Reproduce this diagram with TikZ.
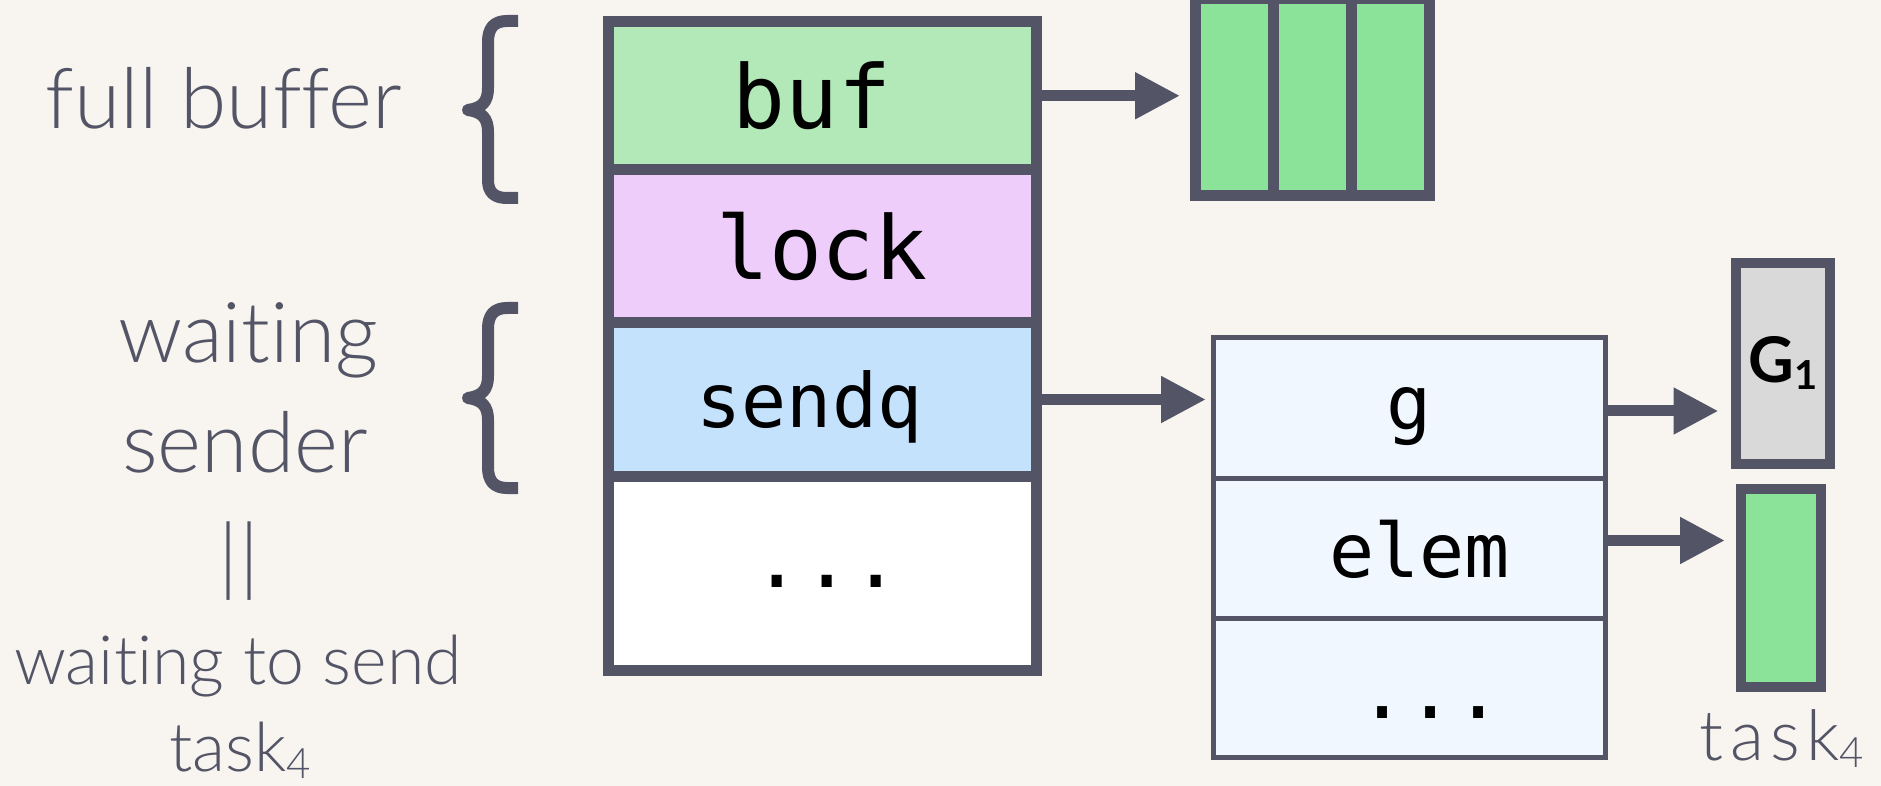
\documentclass[tikz,border=0pt]{standalone}
\usepackage{fontspec}
\setmainfont{Lato}
\newfontfamily\lightfont{Lato Light}[Ligatures=NoCommon]
\newfontfamily\monofont{DejaVu Sans Mono}
\usetikzlibrary{arrows.meta}
\definecolor{bg}{HTML}{F8F5F0}
\definecolor{ink}{HTML}{535466}
\definecolor{bufc}{HTML}{B3E9B9}
\definecolor{lockc}{HTML}{EECDFA}
\definecolor{sendc}{HTML}{C5E2FD}
\definecolor{greenc}{HTML}{8AE399}
\definecolor{sudogc}{HTML}{F0F7FE}
\definecolor{gc}{HTML}{D9D9D9}
\newcommand\subsc[2]{\raisebox{-#2}{\fontsize{#1}{#1}\selectfont 4}}
\begin{document}
\begin{tikzpicture}[x=0.5pt,y=-0.5pt,
  field/.style={draw=ink, line width=5.5pt, inner sep=0pt, outer sep=0pt, minimum width=214pt, font=\monofont\fontsize{44}{50}\selectfont, text=black},
  cell/.style={draw=ink, line width=5.5pt, fill=greenc, inner sep=0pt, outer sep=0pt, minimum width=39.17pt, minimum height=98.5pt},
  sfield/.style={draw=ink, line width=2.5pt, fill=sudogc, inner sep=0pt, outer sep=0pt, minimum width=196pt, minimum height=70pt, font=\monofont\fontsize{37.5}{42}\selectfont, text=black, text depth=0pt},
  tbox/.style={draw=ink, line width=5pt, inner sep=0pt, outer sep=0pt},
  lbl/.style={text=ink, font=\lightfont\fontsize{42}{50}\selectfont, anchor=base, inner sep=0pt},
  slbl/.style={text=ink, font=\lightfont\fontsize{34}{40}\selectfont, anchor=base, inner sep=0pt},
  arr/.style={draw=ink, line width=5.5pt, -{Triangle[length=22.5pt,width=22pt]}},
  brace/.style={draw=ink, line width=6pt, line join=round},
]
\fill[bg] (0,0) rectangle (1881,786);
\useasboundingbox (0,0) rectangle (1881,786);

% left labels
\node[lbl] (fb) at (224,129) {full buffer};
\node[lbl] (w1) at (248,363) {waiting};
\node[lbl] (w2) at (245,473) {sender};
\node[lbl] (eq) at (239,585) {||};
\node[slbl] (wts) at (238,684) {waiting to send};
\node[slbl] (tl) at (240,771) {task\subsc{21}{3.5pt}};

% braces
\draw[brace] (518,21) -- (507,21) .. controls (494,21) and (488,28) .. (488,42) -- (488,88) .. controls (488,102) and (482,108) .. (468,110) .. controls (482,112) and (488,118) .. (488,132) -- (488,180) .. controls (488,192) and (494,198) .. (507,198) -- (518,198);
\draw[brace] (518,308) -- (507,308) .. controls (494,308) and (488,315) .. (488,329) -- (488,376) .. controls (488,390) and (482,396) .. (468,398) .. controls (482,400) and (488,406) .. (488,420) -- (488,467) .. controls (488,481) and (494,488) .. (507,488) -- (518,488);

% channel struct
\node[field, fill=bufc, minimum height=74.25pt] (buf) at (822,95.75) {\hspace*{-10pt}buf};
\node[field, fill=lockc, minimum height=76.5pt] (lock) at (822,246.5) {lock};
\node[field, fill=sendc, minimum height=76.5pt, font=\monofont\fontsize{37.5}{42}\selectfont, text height=28.5pt, text depth=0pt] (sendq) at (822,399.5) {\hspace*{-12.5pt}sendq};
\node[field, fill=white, minimum height=97pt, font=\monofont\fontsize{41}{46}\selectfont, text height=14pt] (more) at (822,573) {\hspace*{5pt}...};

% buffer cells
\node[cell] (c1) at (1234.2,97.5) {};
\node[cell] (c2) at (1312.5,97.5) {};
\node[cell] (c3) at (1390.8,97.5) {};

% sudog
\node[sfield, text height=21.5pt] (g) at (1409,408) {g};
\node[sfield, text height=29pt] (elem) at (1409,548) {\hspace*{10.5pt}elem};
\node[sfield, minimum height=69.5pt, text height=30.5pt, font=\monofont\fontsize{40}{44}\selectfont] (smore) at (1409,687.5) {\hspace*{21.5pt}...};

% G1 and task element
\node[tbox, fill=gc, minimum width=47.25pt, minimum height=100.25pt, font=\bfseries\fontsize{31.5}{36}\selectfont] (G1) at (1782.75,363.25) {G\raisebox{-3.5pt}{\fontsize{20}{20}\selectfont 1}};
\node[tbox, fill=greenc, minimum width=40pt, minimum height=99pt] (task) at (1781,588) {};
\node[slbl, font=\lightfont\fontsize{35}{40}\selectfont\addfontfeatures{LetterSpace=9}] (tr) at (1782,760) {task\subsc{21}{3.5pt}};

% arrows
\draw[arr] (buf.east) -- ([xshift=-7.5pt]buf.east -| c1.west);
\draw[arr] (sendq.east) -- ([xshift=-3.5pt]sendq.east -| g.west);
\draw[arr] ([yshift=-1.5pt]g.east) -- ([xshift=-8.5pt,yshift=-1.5pt]g.east -| G1.west);
\draw[arr] ([yshift=3.75pt]elem.east) -- ([xshift=-8pt,yshift=3.75pt]elem.east -| task.west);
\end{tikzpicture}
\end{document}
